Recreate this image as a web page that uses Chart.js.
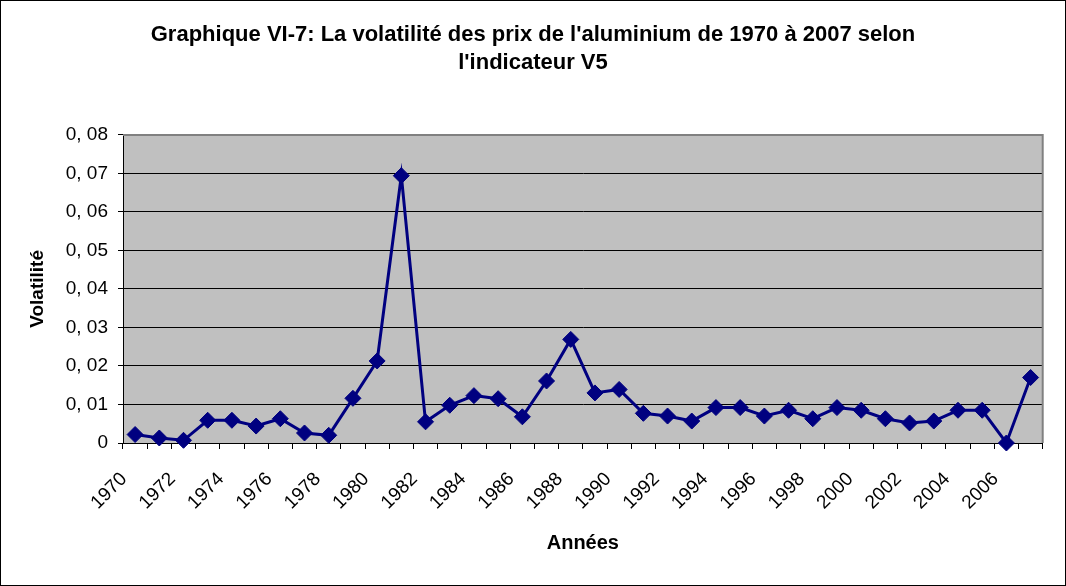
<!DOCTYPE html>
<html>
<head>
<meta charset="utf-8" />
<title>Volatilité aluminium V5</title>
<script src="https://cdn.jsdelivr.net/npm/chart.js@4.4.1/dist/chart.umd.min.js"></script>
<style>
  body { margin: 0; background: #fff; }
</style>
</head>
<body>
<canvas id="myChart" width="1066" height="586"></canvas>
<script>
// years on the category axis
var years = [1970, 1971, 1972, 1973, 1974, 1975, 1976, 1977, 1978, 1979,
             1980, 1981, 1982, 1983, 1984, 1985, 1986, 1987, 1988, 1989,
             1990, 1991, 1992, 1993, 1994, 1995, 1996, 1997, 1998, 1999,
             2000, 2001, 2002, 2003, 2004, 2005, 2006, 2007];

// volatility V5
var volatility = [0.0022, 0.0013, 0.0007, 0.0059, 0.0059, 0.0044, 0.0063, 0.0026, 0.0020, 0.0116,
                  0.0213, 0.0694, 0.0055, 0.0098, 0.0123, 0.0115, 0.0068, 0.0161, 0.0269, 0.0130,
                  0.0139, 0.0077, 0.0070, 0.0057, 0.0092, 0.0092, 0.0070, 0.0085, 0.0063, 0.0092,
                  0.0085, 0.0063, 0.0052, 0.0057, 0.0085, 0.0085, 0.0000, 0.0170];

var yTickLabels = ["0", "0, 01", "0, 02", "0, 03", "0, 04", "0, 05", "0, 06", "0, 07", "0, 08"];

var FONT = "'Liberation Sans', Arial, sans-serif";

// white page, grey plot area, outer frame
var framePlugin = {
  id: 'frame',
  beforeDraw: function(chart) {
    var ctx = chart.ctx, a = chart.chartArea;
    ctx.save();
    ctx.fillStyle = '#ffffff';
    ctx.fillRect(0, 0, chart.width, chart.height);
    ctx.fillStyle = '#c0c0c0';
    ctx.fillRect(a.left, a.top, a.right - a.left, a.bottom - a.top);
    ctx.restore();
  },
  beforeDatasetsDraw: function(chart) {
    var ctx = chart.ctx, a = chart.chartArea;
    ctx.save();
    ctx.strokeStyle = '#808080';
    ctx.lineWidth = 2;
    ctx.beginPath();
    ctx.moveTo(a.left, a.top);
    ctx.lineTo(a.right, a.top);
    ctx.lineTo(a.right, a.bottom);
    ctx.stroke();
    ctx.restore();
  },
  afterDraw: function(chart) {
    var ctx = chart.ctx;
    ctx.save();
    ctx.strokeStyle = '#000000';
    ctx.lineWidth = 1;
    ctx.strokeRect(0.5, 0.5, chart.width - 1, chart.height - 1);
    ctx.restore();
  }
};

var ctx = document.getElementById('myChart').getContext('2d');
var chart = new Chart(ctx, {
  type: 'line',
  data: {
    labels: years,
    datasets: [{
      label: 'V5',
      data: volatility,
      borderColor: '#000080',
      backgroundColor: '#000080',
      borderWidth: 3,
      pointStyle: 'rectRot',
      pointRadius: 8,
      pointHoverRadius: 8,
      pointBorderWidth: 1,
      tension: 0,
      clip: false
    }]
  },
  options: {
    responsive: false,
    animation: false,
    layout: { padding: 0 },
    plugins: {
      legend: { display: false },
      tooltip: { enabled: false },
      title: {
        display: true,
        text: ["Graphique VI-7: La volatilité des prix de l'aluminium de 1970 à 2007 selon", "l'indicateur V5"],
        color: '#000',
        font: { family: FONT, size: 22, weight: 'bold', lineHeight: 1.27 },
        padding: { top: 21, bottom: 58 }
      }
    },
    scales: {
      x: {
        offset: true,
        grid: { display: true, offset: true, drawOnChartArea: false, drawTicks: true, tickLength: 6, color: '#000' },
        border: { display: true, color: '#000', width: 1 },
        ticks: {
          autoSkip: false,
          maxRotation: 45,
          minRotation: 45,
          padding: 19,
          labelOffset: -11,
          color: '#000',
          font: { family: FONT, size: 19 },
          callback: function(v, i) { return i % 2 === 0 ? String(years[i]) : ''; }
        },
        title: {
          display: true,
          text: 'Années',
          color: '#000',
          font: { family: FONT, size: 20, weight: 'bold' },
          padding: { top: 0, bottom: 31 }
        },
        afterFit: function(s) { s.height = 143; }
      },
      y: {
        min: 0,
        max: 0.08,
        ticks: {
          stepSize: 0.01,
          padding: 10,
          color: '#000',
          font: { family: FONT, size: 19 },
          callback: function(v) { return yTickLabels[Math.round(v * 100)]; }
        },
        grid: { color: '#000', lineWidth: 1, tickLength: 5 },
        border: { display: true, color: '#000', width: 1 },
        title: {
          display: true,
          text: 'Volatilité',
          color: '#000',
          font: { family: FONT, size: 19, weight: 'bold' },
          padding: { top: 26, bottom: 0 }
        },
        afterFit: function(s) { s.width = 123; }
      },
      yRight: {
        position: 'right',
        display: true,
        grid: { display: false },
        border: { display: false },
        ticks: { display: false },
        afterFit: function(s) { s.width = 21; }
      }
    }
  },
  plugins: [framePlugin]
});
</script>
</body>
</html>
